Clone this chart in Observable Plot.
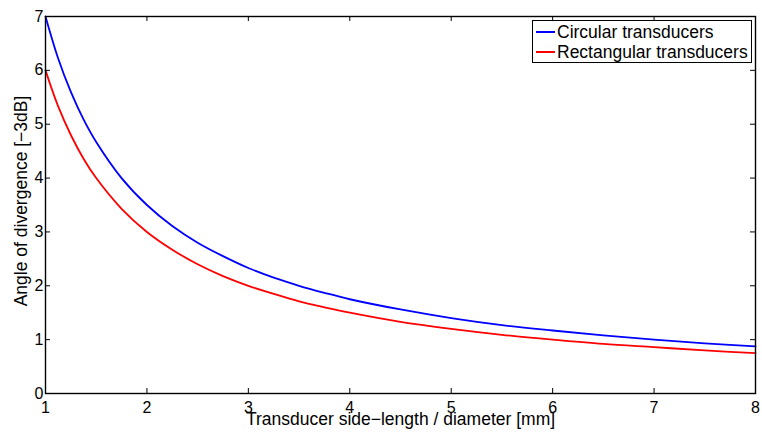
<!DOCTYPE html>
<html>
<head>
<meta charset="utf-8">
<script src="https://cdn.jsdelivr.net/npm/d3@7"></script>
<script src="https://cdn.jsdelivr.net/npm/@observablehq/plot@0.6"></script>
<style>
  html, body { margin: 0; padding: 0; background: #fff; }
  #wrap { position: relative; width: 762px; height: 436px; font-family: "Liberation Sans", Arial, sans-serif; }
  #legend { position: absolute; left: 532px; top: 20px; width: 218px; height: 41px; border: 1.3px solid #000; background: #fff; font-size: 17.5px; color: #000; }
  .row { position: absolute; left: 0; height: 20px; display: flex; align-items: center; white-space: nowrap; }
  .sw { width: 19px; height: 0; border-top: 2px solid; margin-left: 3px; margin-right: 2px; }
</style>
</head>
<body>
<div id="wrap"></div>
<script>
// Transducer side-length / diameter [mm]
const sizes = [1, 1.125, 1.25, 1.375, 1.5, 1.75, 2, 2.25, 2.5, 2.75, 3, 3.25, 3.5, 3.75, 4, 4.5, 5, 5.5, 6, 6.5, 7, 7.5, 8];
// Angle of divergence [-3dB]
const circular = [7, 6.22, 5.6, 5.09, 4.67, 4.0, 3.5, 3.11, 2.8, 2.55, 2.33, 2.15, 2.0, 1.87, 1.75, 1.56, 1.4, 1.27, 1.17, 1.08, 1.0, 0.93, 0.875];
const rectangular = [6, 5.33, 4.8, 4.36, 4.0, 3.43, 3.0, 2.67, 2.4, 2.18, 2.0, 1.85, 1.71, 1.6, 1.5, 1.33, 1.2, 1.09, 1.0, 0.92, 0.86, 0.8, 0.75];
const seriesNames = ["Circular transducers", "Rectangular transducers"];
const seriesColors = ["#0000ff", "#ff0000"];
const xTicks = [1, 2, 3, 4, 5, 6, 7, 8];
const yTicks = [0, 1, 2, 3, 4, 5, 6, 7];
const xLabel = "Transducer side\u2212length / diameter [mm]";
const yLabel = "Angle of divergence [\u22123dB]";

const rows = [];
sizes.forEach((s, i) => {
  rows.push({x: s, y: circular[i], series: seriesNames[0]});
  rows.push({x: s, y: rectangular[i], series: seriesNames[1]});
});

const W = 762, H = 436, mL = 45, mR = 7, mT = 16, mB = 43;
const plotH = H - mT - mB, plotW = W - mL - mR;
const tl = 5;

const chart = Plot.plot({
  width: W, height: H,
  marginLeft: mL, marginRight: mR, marginTop: mT, marginBottom: mB,
  style: {fontFamily: "Liberation Sans, Arial, sans-serif", color: "#000", background: "#fff"},
  x: {domain: [1, 8], axis: null},
  y: {domain: [0, 7], axis: null},
  color: {domain: seriesNames, range: seriesColors},
  marks: [
    Plot.line(rows, {x: "x", y: "y", z: "series", stroke: "series", strokeWidth: 1.8, curve: "catmull-rom"}),
    // inward ticks on all four sides
    Plot.tickX(xTicks, {x: d => d, insetTop: plotH - tl, stroke: "#000", strokeWidth: 1}),
    Plot.tickX(xTicks, {x: d => d, insetBottom: plotH - tl, stroke: "#000", strokeWidth: 1}),
    Plot.tickY(yTicks, {y: d => d, insetRight: plotW - tl, stroke: "#000", strokeWidth: 1}),
    Plot.tickY(yTicks, {y: d => d, insetLeft: plotW - tl, stroke: "#000", strokeWidth: 1}),
    Plot.frame({stroke: "#000", strokeWidth: 1.4}),
    // tick labels
    Plot.text(xTicks, {x: d => d, text: d => String(d), frameAnchor: "bottom", lineAnchor: "top", dy: 8, fontSize: 16, fill: "#000"}),
    Plot.text(yTicks, {y: d => d, text: d => String(d), frameAnchor: "left", textAnchor: "end", lineAnchor: "middle", dx: -2, fontSize: 16, fill: "#000"}),
    // axis titles
    Plot.text([xLabel], {frameAnchor: "bottom", textAnchor: "middle", lineAnchor: "middle", dy: 26, fontSize: 17.5, fill: "#000"}),
    Plot.text([yLabel], {frameAnchor: "left", textAnchor: "middle", lineAnchor: "middle", rotate: -90, dx: -24, dy: -4, fontSize: 17.5, fill: "#000"})
  ]
});

const wrap = document.getElementById("wrap");
wrap.appendChild(chart);
const legend = document.createElement("div");
legend.id = "legend";
seriesNames.forEach((name, i) => {
  const row = document.createElement("div");
  row.className = "row";
  row.style.top = (i === 0 ? 1 : 21) + "px";
  const sw = document.createElement("span");
  sw.className = "sw";
  sw.style.borderTopColor = seriesColors[i];
  const t = document.createElement("span");
  t.textContent = name;
  row.appendChild(sw);
  row.appendChild(t);
  legend.appendChild(row);
});
wrap.appendChild(legend);
</script>
</body>
</html>
